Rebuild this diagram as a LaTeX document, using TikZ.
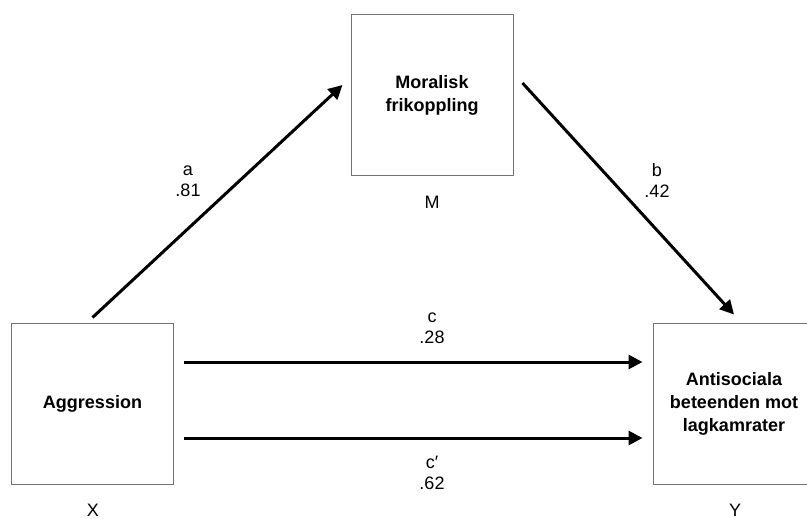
\documentclass[tikz,border=0pt]{standalone}
\usepackage{fontspec}
\setmainfont{Liberation Sans}
\usetikzlibrary{arrows.meta,positioning}

\tikzset{
  varbox/.style={draw=black!55, line width=1pt, minimum width=162pt, minimum height=161pt,
    align=center, inner sep=0pt, font=\fontsize{18}{23}\selectfont\bfseries},
  varlbl/.style={font=\fontsize{18}{21}\selectfont, align=center, inner sep=0pt},
  path/.style={line width=3pt, -{Triangle[length=14pt, width=14pt]}}
}

\begin{document}
\begin{tikzpicture}[x=1pt, y=-1pt]
  \useasboundingbox (0,0) rectangle (807,519);

  % the three variables
  \node[varbox] (M) at (432,95) {Moralisk\\frikoppling};
  \node[varbox] (X) at (92.5,403.5) {Aggression};
  \node[varbox] (Y) at (734,403.5) {Antisociala\\beteenden mot\\lagkamrater};

  % letters under the boxes
  \node[varlbl] (mlbl) at (432,202) {M};
  \node[varlbl] (xlbl) at (93,510) {X};
  \node[varlbl] (ylbl) at (735,510) {Y};

  % paths
  \draw[path] ([yshift=5pt]X.north) -- ([xshift=-8pt, yshift=10pt]M.west);
  \draw[path] ([xshift=9pt, yshift=12pt]M.east) -- ([yshift=8pt]Y.north);
  \draw[path] ([xshift=10pt, yshift=41.5pt]X.east) -- ([xshift=-10pt, yshift=41.5pt]Y.west);
  \draw[path] ([xshift=10pt, yshift=-34.5pt]X.east) -- ([xshift=-10pt, yshift=-34.5pt]Y.west);

  % coefficients
  \node[varlbl] (acoef) at (188,181) {a\\.81};
  \node[varlbl] (bcoef) at (657,180) {b\\.42};
  \node[varlbl] (ccoef) at (432,328) {c\\.28};
  \node[varlbl] (cpcoef) at (432,473) {c′\\.62};
\end{tikzpicture}
\end{document}
